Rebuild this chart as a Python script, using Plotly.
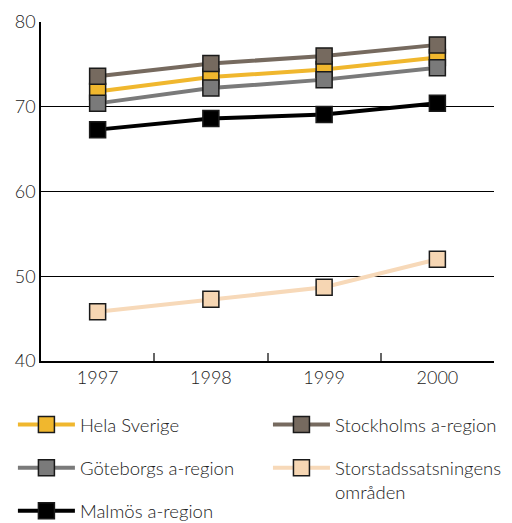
import plotly.graph_objects as go

years = ["1997", "1998", "1999", "2000"]
hela_sverige = [71.8, 73.5, 74.4, 75.8]
stockholm = [73.6, 75.1, 76.0, 77.3]
goteborg = [70.4, 72.2, 73.2, 74.6]
malmo = [67.3, 68.6, 69.1, 70.4]
storstad = [45.8, 47.3, 48.7, 52.0]

y_ticks = [40, 50, 60, 70, 80]

series = [
    # name, values, line color, marker color, legend, rank
    ("Malmös a-region", malmo, "#000000", "#000000", "legend", 3),
    ("Storstadssatsningens<br>områden", storstad, "#F7D9B9", "#F6D6B3", "legend2", 2),
    ("Hela Sverige", hela_sverige, "#F0B72E", "#F0B72E", "legend", 1),
    ("Göteborgs a-region", goteborg, "#7A7A7A", "#7A7A7A", "legend", 2),
    ("Stockholms a-region", stockholm, "#766A5F", "#766A5F", "legend2", 1),
]

fig = go.Figure()
for name, vals, lc, mc, leg, rank in series:
    fig.add_trace(go.Scatter(
        x=years, y=vals, name=name, mode="lines+markers",
        line=dict(color=lc, width=4),
        marker=dict(symbol="square", size=16, color=mc,
                    line=dict(color="#1a1a1a", width=1.5)),
        legend=leg, legendrank=rank, legendgroup=name,
    ))

tick_font = dict(family="Lato, Open Sans, sans-serif", size=18, color="#222222", weight=300)
leg_font = dict(family="Lato, Open Sans, sans-serif", size=18.5, color="#222222", weight=300)
fig.update_layout(
    width=504, height=515,
    margin=dict(l=33, r=18, t=14, b=162, autoexpand=False),
    paper_bgcolor="white", plot_bgcolor="white",
    font=tick_font,
    xaxis=dict(type="category", tickson="boundaries", ticks="inside",
               ticklen=8, tickcolor="#666666", tickwidth=1.5,
               showline=True, linecolor="#000000", linewidth=1.5,
               showgrid=False, tickfont=tick_font, range=[-0.5, 3.5]),
    yaxis=dict(range=[40, 80], tickvals=y_ticks, showline=True,
               linecolor="#000000", linewidth=1.5, gridcolor="#000000",
               gridwidth=1, zeroline=False, ticks="", tickfont=tick_font),
    legend=dict(x=-0.062, y=-0.133, xanchor="left", yanchor="top",
                orientation="v", font=leg_font, tracegroupgap=16,
                itemwidth=57, bgcolor="rgba(0,0,0,0)"),
    legend2=dict(x=0.501, y=-0.133, xanchor="left", yanchor="top",
                 orientation="v", font=leg_font, tracegroupgap=16,
                 itemwidth=57, valign="top", bgcolor="rgba(0,0,0,0)"),
    showlegend=True,
)

fig.write_html("out.html")
